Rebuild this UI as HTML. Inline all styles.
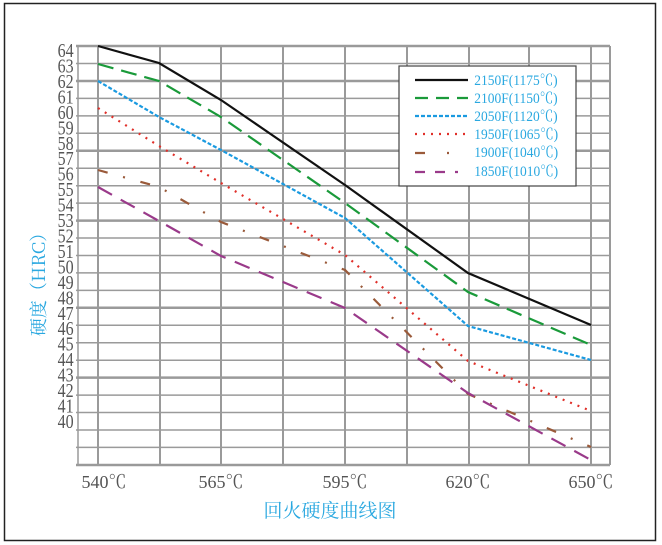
<!DOCTYPE html>
<html><head><meta charset="utf-8"><style>
html,body{margin:0;padding:0;background:#fff;}
svg{display:block;}
</style></head><body>
<svg width="662" height="545" xmlns="http://www.w3.org/2000/svg">
<rect x="4.5" y="3.5" width="651" height="537" fill="#fff" stroke="#222" stroke-width="1.5"/>
<g stroke="#9a9a9a" stroke-width="1.5">
<line x1="76" y1="46" x2="610" y2="46" stroke-width="2.5"/>
<line x1="76" y1="63.5" x2="610" y2="63.5"/>
<line x1="76" y1="81" x2="610" y2="81" stroke-width="2.5"/>
<line x1="76" y1="98.4" x2="610" y2="98.4"/>
<line x1="76" y1="115.9" x2="610" y2="115.9"/>
<line x1="76" y1="133.3" x2="610" y2="133.3"/>
<line x1="76" y1="150.8" x2="610" y2="150.8" stroke-width="2.5"/>
<line x1="76" y1="168.2" x2="610" y2="168.2"/>
<line x1="76" y1="185.7" x2="610" y2="185.7"/>
<line x1="76" y1="203.1" x2="610" y2="203.1"/>
<line x1="76" y1="220.6" x2="610" y2="220.6" stroke-width="2.5"/>
<line x1="76" y1="238" x2="610" y2="238"/>
<line x1="76" y1="255.5" x2="610" y2="255.5"/>
<line x1="76" y1="272.9" x2="610" y2="272.9"/>
<line x1="76" y1="290.4" x2="610" y2="290.4"/>
<line x1="76" y1="307.8" x2="610" y2="307.8" stroke-width="2.5"/>
<line x1="76" y1="325.3" x2="610" y2="325.3"/>
<line x1="76" y1="342.7" x2="610" y2="342.7"/>
<line x1="76" y1="360.2" x2="610" y2="360.2"/>
<line x1="76" y1="377.6" x2="610" y2="377.6" stroke-width="2.5"/>
<line x1="76" y1="395.1" x2="610" y2="395.1"/>
<line x1="76" y1="412.5" x2="610" y2="412.5"/>
<line x1="76" y1="430" x2="610" y2="430"/>
<line x1="76" y1="447.4" x2="610" y2="447.4"/>
<line x1="76" y1="465" x2="610" y2="465" stroke-width="2.5"/>
<line x1="78" y1="46" x2="78" y2="465"/>
<line x1="98" y1="46" x2="98" y2="465" stroke-width="2"/>
<line x1="160" y1="46" x2="160" y2="465" stroke-width="2"/>
<line x1="221" y1="46" x2="221" y2="465" stroke-width="2"/>
<line x1="283" y1="46" x2="283" y2="465" stroke-width="2"/>
<line x1="345" y1="46" x2="345" y2="465" stroke-width="2"/>
<line x1="407" y1="46" x2="407" y2="465" stroke-width="2"/>
<line x1="469" y1="46" x2="469" y2="465" stroke-width="2"/>
<line x1="529" y1="46" x2="529" y2="465" stroke-width="2"/>
<line x1="591" y1="46" x2="591" y2="465" stroke-width="2"/>
<line x1="610" y1="46" x2="610" y2="465" stroke-width="2"/>
</g>
<g fill="none" stroke-width="2.2">
<polyline stroke="#111" points="98,46 159,63 221,100 345,185 468,273 591,325"/>
<polyline stroke="#1a9a3a" stroke-dasharray="16,8" points="98,64 159,81 221,117 345,203 468,292 591,345"/>
<polyline stroke="#1a9ae0" stroke-dasharray="4,2" points="98,81 159,117 221,150 345,218 468,326 591,360"/>
<polyline stroke="#e0302a" stroke-dasharray="2,6" points="98,108 159,146 221,183 345,255 468,361 591,411"/>
<polyline stroke="#9a5a3a" stroke-dasharray="10,16,2,16" points="98,170 159,187 221,222 345,270 468,394 591,447"/>
<polyline stroke="#9a3a8a" stroke-dasharray="16,10" points="98,187 159,221 221,256 345,308 468,393 591,460"/>
</g>
<g font-family="Liberation Serif, serif" font-size="20" fill="#555" text-anchor="end" transform="scale(0.8,1)">
<text x="92" y="57">64</text><text x="92" y="72.5">63</text><text x="92" y="88">62</text><text x="92" y="103.4">61</text><text x="92" y="118.9">60</text><text x="92" y="134.3">59</text><text x="92" y="149.8">58</text><text x="92" y="165.2">57</text><text x="92" y="180.7">56</text><text x="92" y="196.1">55</text><text x="92" y="211.6">54</text><text x="92" y="227">53</text><text x="92" y="242.5">52</text><text x="92" y="258">51</text><text x="92" y="273.4">50</text><text x="92" y="288.9">49</text><text x="92" y="304.3">48</text><text x="92" y="319.8">47</text><text x="92" y="335.2">46</text><text x="92" y="350.7">45</text><text x="92" y="366.1">44</text><text x="92" y="381.6">43</text><text x="92" y="397">42</text><text x="92" y="412.5">41</text><text x="92" y="428">40</text>
</g>
<g font-family="Liberation Serif, 'Noto Serif CJK SC', serif" font-size="18" fill="#555" text-anchor="middle">
<text x="104" y="488">540℃</text><text x="221" y="488">565℃</text><text x="345" y="488">595℃</text><text x="468" y="488">620℃</text><text x="591" y="488">650℃</text>
</g>
<text x="330" y="517" text-anchor="middle" font-family="'Noto Serif CJK SC', serif" font-size="19" fill="#2aa8e0">回火硬度曲线图</text>
<text transform="translate(45,280) rotate(-90)" text-anchor="middle" font-family="'Noto Serif CJK SC', serif" font-size="18" fill="#2aa8e0">硬度（HRC）</text>
<rect x="399" y="66" width="177" height="120" fill="#fff" stroke="#444" stroke-width="1.2"/>
<g stroke-width="2.2">
<line x1="415" y1="80" x2="468" y2="80" stroke="#111"/>
<line x1="415" y1="98" x2="468" y2="98" stroke="#1a9a3a" stroke-dasharray="13,8"/>
<line x1="415" y1="116" x2="468" y2="116" stroke="#1a9ae0" stroke-dasharray="4,2"/>
<line x1="415" y1="134" x2="468" y2="134" stroke="#e0302a" stroke-dasharray="2,6"/>
<line x1="415" y1="153" x2="450" y2="153" stroke="#9a5a3a" stroke-dasharray="10,22,2,20"/>
<line x1="415" y1="172" x2="458" y2="172" stroke="#9a3a8a" stroke-dasharray="10,10"/>
</g>
<g font-family="Liberation Serif, 'Noto Serif CJK SC', serif" font-size="15" fill="#2aa8e0" transform="scale(0.9,1)">
<text x="527" y="85">2150F(1175℃)</text><text x="527" y="103">2100F(1150℃)</text><text x="527" y="121">2050F(1120℃)</text><text x="527" y="139">1950F(1065℃)</text><text x="527" y="157">1900F(1040℃)</text><text x="527" y="176">1850F(1010℃)</text>
</g>
</svg>
</body></html>
